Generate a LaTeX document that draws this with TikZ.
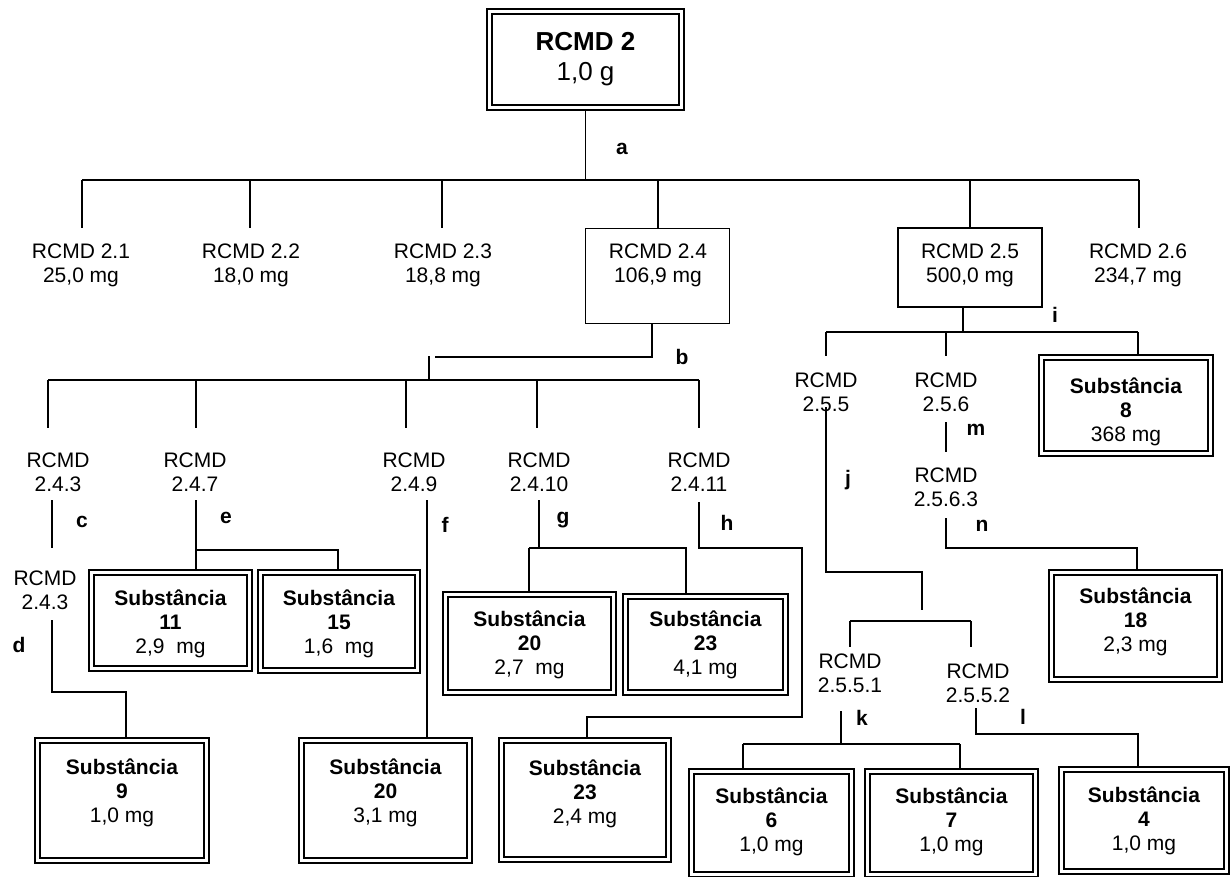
\documentclass[tikz,border=0pt]{standalone}
\usepackage{fontspec}
\setmainfont{Liberation Sans}
\begin{document}
\begin{tikzpicture}[x=1pt,y=-1pt,
  conn/.style={line width=1.5pt},
  txt/.style={font=\fontsize{21}{24}\selectfont, align=center, inner sep=0pt},
  lbl/.style={font=\fontsize{21}{24}\selectfont\bfseries, inner sep=0pt},
  sbox/.style={draw, line width=2pt, double, double distance=3pt, inner sep=0pt, outer sep=3.5pt},
  pbox/.style={draw, line width=1.6pt, inner sep=0pt},
]
\useasboundingbox (0,0) rectangle (1231,877);

% root
\node[sbox, minimum width=192pt, minimum height=96pt, font=\fontsize{26}{30}\selectfont, align=center] (root) at (585.5,59.5) {\textbf{RCMD 2}\\1,0 g};

% first level
\node[txt] (t21) at (81,265) {RCMD 2.1\\25,0 mg};
\node[txt] (t22) at (251,265) {RCMD 2.2\\18,0 mg};
\node[txt] (t23) at (443,265) {RCMD 2.3\\18,8 mg};
\node[pbox, minimum width=144pt, minimum height=95pt] (b24) at (657.5,276) {};
\node[txt] (t24) at (658,265) {RCMD 2.4\\106,9 mg};
\node[pbox, minimum width=144pt, minimum height=79pt] (b25) at (970,267.5) {};
\node[txt] (t25) at (970,265) {RCMD 2.5\\500,0 mg};
\node[txt] (t26) at (1138,265) {RCMD 2.6\\234,7 mg};

% second level
\node[txt] (t243) at (58,472) {RCMD\\2.4.3};
\node[txt] (t247) at (195,472) {RCMD\\2.4.7};
\node[txt] (t249) at (414,472) {RCMD\\2.4.9};
\node[txt] (t2410) at (539,472) {RCMD\\2.4.10};
\node[txt] (t2411) at (699,472) {RCMD\\2.4.11};
\node[txt] (t243b) at (45,590) {RCMD\\2.4.3};
\node[txt] (t255) at (826,392) {RCMD\\2.5.5};
\node[txt] (t256) at (946,392) {RCMD\\2.5.6};
\node[txt] (t2563) at (946,487) {RCMD\\2.5.6.3};
\node[txt] (t2551) at (850,673) {RCMD\\2.5.5.1};
\node[txt] (t2552) at (978,683) {RCMD\\2.5.5.2};

% substance boxes
\node[sbox, minimum width=169pt, minimum height=96pt] (s8) at (1126,405.5) {};
\node[txt] (s8t) at (1126,412) {\textbf{Substância}\\\textbf{8}\\368 mg};
\node[sbox, minimum width=158pt, minimum height=96pt] (s11) at (170.5,620.5) {};
\node[txt] (s11t) at (170.5,624) {\textbf{Substância}\\\textbf{11}\\2,9~~mg};
\node[sbox, minimum width=157pt, minimum height=98pt] (s15) at (339,621.5) {};
\node[txt] (s15t) at (339,624) {\textbf{Substância}\\\textbf{15}\\1,6~~mg};
\node[sbox, minimum width=168pt, minimum height=98pt] (s20a) at (529.5,643.5) {};
\node[txt] (s20at) at (529.5,645) {\textbf{Substância}\\\textbf{20}\\2,7~~mg};
\node[sbox, minimum width=160pt, minimum height=96pt] (s23a) at (705.5,644.5) {};
\node[txt] (s23at) at (705.5,645) {\textbf{Substância}\\\textbf{23}\\4,1 mg};
\node[sbox, minimum width=168pt, minimum height=107pt] (s18) at (1135.5,626) {};
\node[txt] (s18t) at (1135.5,622) {\textbf{Substância}\\\textbf{18}\\2,3 mg};
\node[sbox, minimum width=169pt, minimum height=120pt] (s9) at (122,800.5) {};
\node[txt] (s9t) at (122,793) {\textbf{Substância}\\\textbf{9}\\1,0 mg};
\node[sbox, minimum width=168pt, minimum height=120pt] (s20b) at (385.5,800.5) {};
\node[txt] (s20bt) at (385.5,793) {\textbf{Substância}\\\textbf{20}\\3,1 mg};
\node[sbox, minimum width=167pt, minimum height=119pt] (s23b) at (585,800) {};
\node[txt] (s23bt) at (585,794) {\textbf{Substância}\\\textbf{23}\\2,4 mg};
\node[sbox, minimum width=160pt, minimum height=103pt] (s6) at (771.5,823) {};
\node[txt] (s6t) at (771.5,822) {\textbf{Substância}\\\textbf{6}\\1,0 mg};
\node[sbox, minimum width=168pt, minimum height=103pt] (s7) at (951.5,823) {};
\node[txt] (s7t) at (951.5,822) {\textbf{Substância}\\\textbf{7}\\1,0 mg};
\node[sbox, minimum width=165pt, minimum height=102pt] (s4) at (1144,820.5) {};
\node[txt] (s4t) at (1144,821) {\textbf{Substância}\\\textbf{4}\\1,0 mg};

% junction coordinates
\coordinate (ja) at (585.5,180);
\coordinate (jb) at (429,380);
\coordinate (ji) at (963,332);

% connectors: a
\draw[conn] (root.south) -- (ja);
\draw[conn] (82,180) -- (1139,180);
\foreach \x in {82,250,442,1139} \draw[conn] (\x,180) -- (\x,228);
\draw[conn] (658,180) -- (658,228);
\draw[conn] (970,180) -- (970,228);
% b
\draw[conn] (652,324) -- (652,357) -- (435,357);
\draw[conn] (429,356) -- (jb);
\draw[conn] (48,380) -- (699,380);
\foreach \x in {48,196,406,537,699} \draw[conn] (\x,380) -- (\x,428);
% c
\draw[conn] (52,500) -- (52,548);
% d
\draw[conn] (52,620) -- (52,692) -- (126,692) -- (126,737);
% e
\draw[conn] (196,500) -- (196,569);
\draw[conn] (196,550) -- (338,550) -- (338,569);
% f
\draw[conn] (427,500) -- (427,737);
% g
\draw[conn] (539,500) -- (539,548);
\draw[conn] (529,548) -- (687,548);
\draw[conn] (529,548) -- (529,591);
\draw[conn] (686,548) -- (686,593);
% h
\draw[conn] (699,502) -- (699,548) -- (802,548) -- (802,717) -- (587,717) -- (587,737);
% i
\draw[conn] (b25.south -| ji) -- (ji);
\draw[conn] (826,332) -- (1138,332);
\draw[conn] (826,332) -- (826,356);
\draw[conn] (946,332) -- (946,356);
\draw[conn] (1138,332) -- (1138,354);
% j
\draw[conn] (826,407) -- (826,572) -- (922,572) -- (922,610);
\draw[conn] (850,621) -- (971,621);
\draw[conn] (850,621) -- (850,647);
\draw[conn] (971,621) -- (971,647);
% k
\draw[conn] (841,711) -- (841,744);
\draw[conn] (743,744) -- (960,744);
\draw[conn] (743,744) -- (743,768);
\draw[conn] (960,744) -- (960,768);
% l
\draw[conn] (976,708) -- (976,734) -- (1138,734) -- (1138,766);
% m
\draw[conn] (946,422) -- (946,452);
% n
\draw[conn] (946,518) -- (946,548) -- (1137,548) -- (1137,569);

% labels
\node[lbl] (la) at (622,149) {a};
\node[lbl] (lb) at (682,357) {b};
\node[lbl] (lc) at (82,522) {c};
\node[lbl] (ld) at (19,645) {d};
\node[lbl] (le) at (226,518) {e};
\node[lbl] (lf) at (445,525) {f};
\node[lbl] (lg) at (563,520) {g};
\node[lbl] (lh) at (727,523) {h};
\node[lbl] (li) at (1055,315) {i};
\node[lbl] (lj) at (848,480) {j};
\node[lbl] (lk) at (862,718) {k};
\node[lbl] (ll) at (1023,717) {l};
\node[lbl] (lm) at (976,430) {m};
\node[lbl] (ln) at (982,526) {n};
\end{tikzpicture}
\end{document}
